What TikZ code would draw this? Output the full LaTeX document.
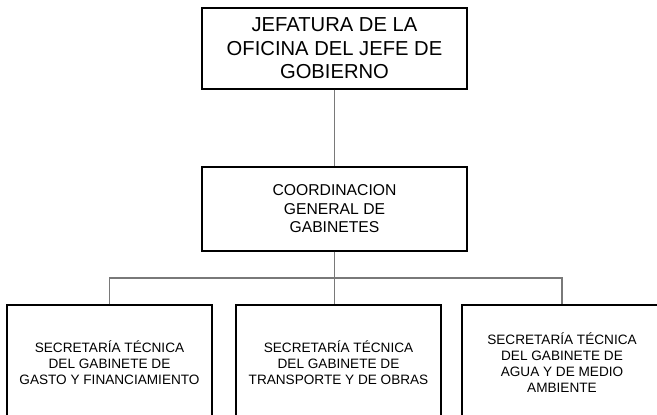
\documentclass[tikz,border=0pt]{standalone}
\usepackage{fontspec}
\setmainfont{Liberation Sans}
\begin{document}
\begin{tikzpicture}[x=1pt,y=-1pt,
  box/.style={draw=black, line width=1.4pt, inner sep=0pt, align=center, anchor=center},
  conn/.style={draw=gray!95!black, line width=1.4pt},
  bigtxt/.style={font=\fontsize{20.2}{23.5}\selectfont},
  midtxt/.style={font=\fontsize{15.7}{18.5}\selectfont},
  smalltxt/.style={font=\fontsize{13.6}{16}\selectfont}]
\useasboundingbox (0,0) rectangle (657,415);
\clip (0,0) rectangle (657,415);
\fill[white] (0,0) rectangle (657,415);
\node[box, bigtxt, minimum width=265pt, minimum height=81pt] (top) at (334.5,48.5)
  {JEFATURA DE LA\\OFICINA DEL JEFE DE\\GOBIERNO};
\node[box, midtxt, minimum width=265pt, minimum height=84pt] (mid) at (334.5,209)
  {COORDINACION\\GENERAL DE\\GABINETES};
\node[box, smalltxt, minimum width=205pt, minimum height=115pt] (b1) at (109.5,362.5)
  {SECRETARÍA TÉCNICA\\DEL GABINETE DE\\GASTO Y FINANCIAMIENTO};
\node[box, smalltxt, minimum width=205pt, minimum height=115pt] (b2) at (338.5,362.5)
  {SECRETARÍA TÉCNICA\\DEL GABINETE DE\\TRANSPORTE Y DE OBRAS};
\node[box, smalltxt, minimum width=200pt, minimum height=115pt] (b3) at (562,362.5)
  {SECRETARÍA TÉCNICA\\DEL GABINETE DE\\AGUA Y DE MEDIO\\AMBIENTE};
\coordinate (j) at (334.5,278);
\draw[conn] (top.south) -- (mid.north);
\draw[conn] (mid.south) -- (j);
\draw[conn] (b1.north) |- (j) -| (b3.north);
\draw[conn] (j) -- (j |- b2.north);
\end{tikzpicture}
\end{document}
